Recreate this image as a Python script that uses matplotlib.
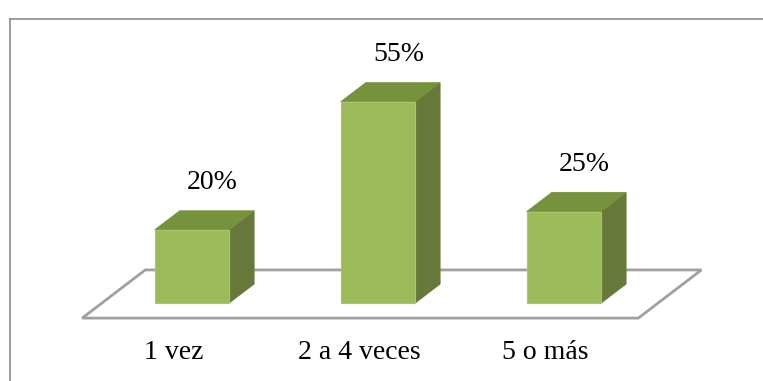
import matplotlib
matplotlib.use("Agg")
import matplotlib.pyplot as plt
from matplotlib.patches import Polygon
from matplotlib.lines import Line2D

# Chart data
categories = ["1 vez", "2 a 4 veces", "5 o más"]
values = [20, 55, 25]
value_labels = ["20%", "55%", "25%"]

# Styling
front_color = "#9BBB59"
top_color = "#77923C"
side_color = "#66793A"
edge_light = "#A9C66E"
floor_color = "#A0A0A0"
frame_color = "#8C8C8C"
font = ["Liberation Serif", "DejaVu Serif"]

W, H, DPI = 763, 381, 100
fig = plt.figure(figsize=(W / DPI, H / DPI), dpi=DPI)
ax = fig.add_axes([0, 0, 1, 1])

# Axis scales: one category step and one percent in data units
ax.set_xlim(-1.032, 3.07)
ax.set_ylim(-21.3, 82.8)
ax.axis("off")

bar_w = 0.40          # front face width (category units)
ddx, ddy = 0.134, 5.2  # oblique depth offset

# Floor parallelogram
fl_x0, fl_x1 = -0.59, 2.40
f_front, f_back = -0.79, 1.74
floor = [
    (fl_x0, f_front * ddy),
    (fl_x1, f_front * ddy),
    (fl_x1 + (f_back - f_front) * ddx, f_back * ddy),
    (fl_x0 + (f_back - f_front) * ddx, f_back * ddy),
]
ax.add_patch(Polygon(floor, closed=True, facecolor="white",
                     edgecolor=floor_color, linewidth=2.0, zorder=1))

for i, v in enumerate(values):
    x0 = i - bar_w / 2
    x1 = i + bar_w / 2
    front = [(x0, 0), (x1, 0), (x1, v), (x0, v)]
    top = [(x0, v), (x1, v), (x1 + ddx, v + ddy), (x0 + ddx, v + ddy)]
    side = [(x1, 0), (x1 + ddx, ddy), (x1 + ddx, v + ddy), (x1, v)]
    ax.add_patch(Polygon(side, closed=True, facecolor=side_color,
                         edgecolor=side_color, linewidth=0.6, zorder=3))
    ax.add_patch(Polygon(top, closed=True, facecolor=top_color,
                         edgecolor=top_color, linewidth=0.6, zorder=3))
    ax.add_patch(Polygon(front, closed=True, facecolor=front_color,
                         edgecolor=edge_light, linewidth=0.8, zorder=4))
    ax.text(i + 0.11, v + ddy + 7.6, value_labels[i], ha="center",
            va="center", fontsize=20, family=font, color="black", zorder=5)
    ax.text(i - 0.10, -13.4, categories[i], ha="center", va="center",
            fontsize=20, family=font, color="black", zorder=5)

# Outer chart frame (top and left edges visible)
fx = 10 / W
fy = 1 - 19 / H
fig.add_artist(Line2D([fx, 1.0], [fy, fy], transform=fig.transFigure,
                      color=frame_color, linewidth=1.2))
fig.add_artist(Line2D([fx, fx], [fy, 0.0], transform=fig.transFigure,
                      color=frame_color, linewidth=1.2))

fig.savefig("out.png", dpi=DPI, facecolor="white")
